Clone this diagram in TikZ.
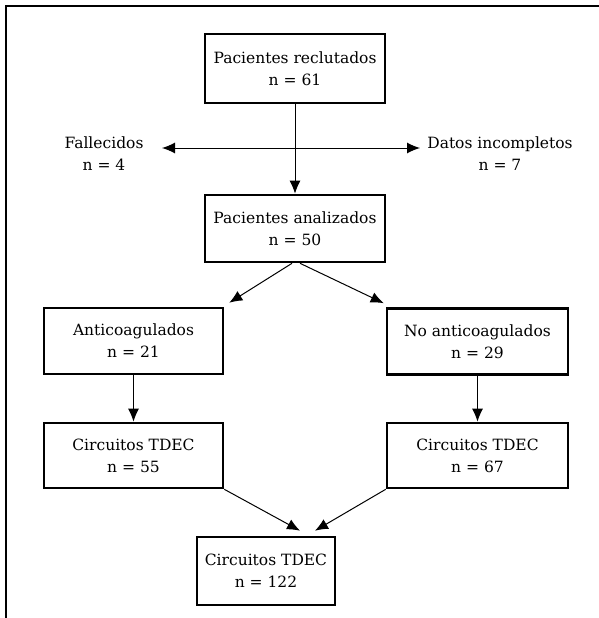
\documentclass[tikz,border=0pt]{standalone}
\usepackage{fontspec}
\setmainfont{DejaVu Serif}
\usetikzlibrary{arrows.meta}
\begin{document}
\fontsize{15.5pt}{22pt}\selectfont
\begin{tikzpicture}[x=1pt,y=-1pt,
  caja/.style={draw, line width=2.6pt, align=center, inner sep=0pt, minimum height=66pt},
  flecha/.style={-{Latex[length=13pt,width=11pt]}, line width=1pt}]
\useasboundingbox (0,0) rectangle (599,618);
\draw [line width=1.5pt] (599,6) -- (6,6) -- (6,618);
\node [caja, minimum width=180pt, minimum height=69pt] (recl) at (295,68.5) {Pacientes reclutados\\n = 61};
\node [align=center] (fall) at (104,154) {Fallecidos\\n = 4};
\node [align=center] (datos) at (500,154) {Datos incompletos\\n = 7};
\coordinate (izq) at (162,148);
\coordinate (der) at (420,148);
\draw [flecha, {Latex[length=13pt,width=11pt]}-{Latex[length=13pt,width=11pt]}] (izq) -- (der);
\node [caja, minimum width=180pt, minimum height=67pt] (anal) at (295,228.5) {Pacientes analizados\\n = 50};
\draw [flecha] (recl.south) -- (anal.north);
\node [caja, minimum width=179pt] (anti) at (133.5,341) {Anticoagulados\\n = 21};
\node [caja, minimum width=181pt] (noanti) at (477.5,341.5) {No anticoagulados\\n = 29};
\draw [flecha] ([xshift=-3pt]anal.south) -- ([shift={(5pt,4pt)}]anti.north east);
\draw [flecha] ([xshift=5pt]anal.south) -- ([shift={(-2pt,4pt)}]noanti.north west);
\node [caja, minimum width=179pt, minimum height=65pt] (circa) at (133.5,455.5) {Circuitos TDEC\\n = 55};
\node [caja, minimum width=181pt, minimum height=65pt] (circb) at (477.5,455.5) {Circuitos TDEC\\n = 67};
\draw [flecha] (anti.south) -- (circa.north);
\draw [flecha] (noanti.south) -- (circb.north);
\node [caja, minimum width=138pt, minimum height=68pt] (total) at (266,571) {Circuitos TDEC\\n = 122};
\draw [flecha] (circa.south east) -- ([shift={(34pt,5pt)}]total.north);
\draw [flecha] (circb.south west) -- ([shift={(49pt,5pt)}]total.north);
\end{tikzpicture}
\end{document}
